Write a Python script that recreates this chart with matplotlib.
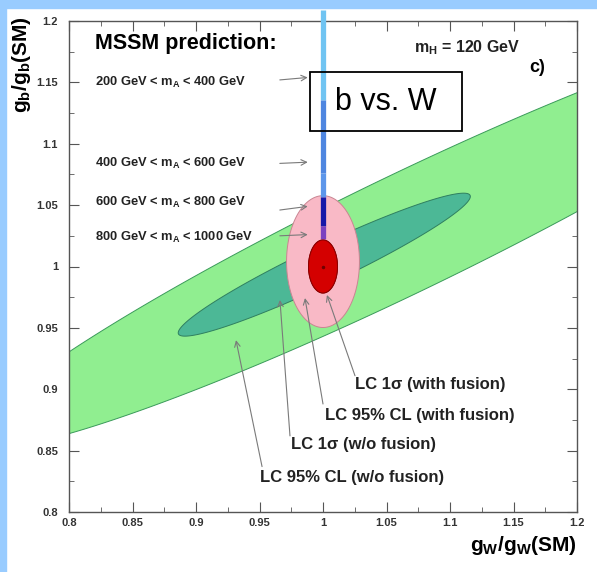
import numpy as np
import matplotlib
matplotlib.use("Agg")
import matplotlib.pyplot as plt
from matplotlib.patches import Polygon, Rectangle

plt.rcParams['font.family'] = ['Liberation Sans', 'DejaVu Sans']
plt.rcParams['mathtext.fontset'] = 'custom'
plt.rcParams['mathtext.rm'] = 'Liberation Sans'
plt.rcParams['mathtext.bf'] = 'Liberation Sans:bold'
plt.rcParams['mathtext.it'] = 'Liberation Sans:italic'

# 等高线（LC 精度区域）：中心、x 半宽、倾斜、y 半高
contour_labels = ['LC 95% CL (w/o fusion)', 'LC 1σ (w/o fusion)',
                  'LC 95% CL (with fusion)', 'LC 1σ (with fusion)']
contour_cx = [1.063, 1.001, 1.000, 1.000]
contour_cy = [1.026, 1.0015, 1.004, 1.000]
contour_halfx = [0.338, 0.115, 0.0287, 0.0114]
contour_slope = [0.49, 0.483, 0.0, 0.0]
contour_halfy = [0.053, 0.0175, 0.0537, 0.0216]
contour_fill = ['#90ee90', '#4cb896', '#f9b9c6', '#d40000']
contour_edge = ['#3a9a5a', '#2f7f60', '#c98592', '#8a0000']

# MSSM 预测线（x = 1）
mssm_x = 1.0
mssm_edges = [1.209, 1.136, 1.076, 1.057, 1.033, 1.022]
mssm_colors = ['#70c4f2', '#4f86e0', '#5d96ea', '#1717a8', '#7b40c0']
mass_labels = ['200 GeV < m$_\\mathbf{A}$ < 400 GeV', '400 GeV < m$_\\mathbf{A}$ < 600 GeV',
               '600 GeV < m$_\\mathbf{A}$ < 800 GeV', '800 GeV < m$_\\mathbf{A}$ < 1000 GeV']
mass_text_y = [1.150, 1.0843, 1.0525, 1.024]
mass_arrow_y = [1.152, 1.084, 1.046, 1.025]
mass_arrow_tip_y = [1.154, 1.085, 1.049, 1.026]

ticks = [0.8, 0.85, 0.9, 0.95, 1.0, 1.05, 1.1, 1.15, 1.2]
tick_labels = ['0.8', '0.85', '0.9', '0.95', '1', '1.05', '1.1', '1.15', '1.2']

fig = plt.figure(figsize=(5.97, 5.72), dpi=100)
fig.patches.append(Rectangle((0, 1 - 8 / 572), 1, 8 / 572, transform=fig.transFigure,
                             color='#99ccff', zorder=-10))
fig.patches.append(Rectangle((0, 0), 6 / 597, 1, transform=fig.transFigure,
                             color='#99ccff', zorder=-10))
ax = fig.add_axes([69 / 597, 1 - 512 / 572, 508 / 597, 491 / 572])

t = np.linspace(0, 2 * np.pi, 400)
for i in range(len(contour_labels)):
    xs = contour_cx[i] + contour_halfx[i] * np.cos(t)
    ys = contour_cy[i] + contour_slope[i] * contour_halfx[i] * np.cos(t) + contour_halfy[i] * np.sin(t)
    ax.add_patch(Polygon(np.column_stack([xs, ys]), closed=True, facecolor=contour_fill[i],
                         edgecolor=contour_edge[i], lw=0.7, zorder=2 + i))

# 预测线各段
for i in range(len(mssm_colors)):
    ax.plot([mssm_x, mssm_x], [mssm_edges[i], mssm_edges[i + 1]], color=mssm_colors[i],
            lw=3.8, solid_capstyle='butt', zorder=5, clip_on=False)

# 红色椭圆画在线上面
xs = contour_cx[3] + contour_halfx[3] * np.cos(t)
ys = contour_cy[3] + contour_halfy[3] * np.sin(t)
ax.add_patch(Polygon(np.column_stack([xs, ys]), closed=True, facecolor=contour_fill[3],
                     edgecolor=contour_edge[3], lw=0.7, zorder=6))
ax.plot([contour_cx[3]], [contour_cy[3]], marker='o', ms=1.5, color='#700000', zorder=7)

arrow_kw = dict(arrowstyle='->', color='#7a7a7a', lw=0.8, shrinkA=0, shrinkB=0)

ax.text(0.8205, 1.1813, 'MSSM prediction:', fontsize=15.5, fontweight='bold', va='center')
for lab, ty, ay, tipy in zip(mass_labels, mass_text_y, mass_arrow_y, mass_arrow_tip_y):
    ax.text(0.8205, ty, lab, fontsize=9.3, fontweight='bold', va='center', color='#222222')
    ax.annotate('', xy=(0.988, tipy), xytext=(0.966, ay), arrowprops=arrow_kw, zorder=8)

ax.text(1.1134, 1.178, 'm$_\\mathbf{H}$ = 120 GeV', fontsize=11.5, fontweight='bold',
        ha='center', va='center', color='#222222')
ax.text(1.1685, 1.1625, 'c)', fontsize=13, fontweight='bold', ha='center', va='center')

ax.add_patch(Rectangle((0.9898, 1.1104), 0.1196, 0.0481, fill=False, edgecolor='black',
                       lw=1.3, zorder=9))
ax.text(1.0496, 1.1344, 'b vs. W', fontsize=22, ha='center', va='center', zorder=9)

# 标注
lc_text_xy = [(0.9504, 0.8285), (0.9748, 0.8546), (1.0016, 0.879), (1.0252, 0.9035)]
lc_tail = [(0.952, 0.837), (0.974, 0.862), (1.0, 0.888), (1.0252, 0.911)]
lc_head = [(0.9315, 0.940), (0.9661, 0.9727), (0.9858, 0.9743), (1.0031, 0.9768)]
for lab, (tx, ty), tail, head in zip(contour_labels, lc_text_xy, lc_tail, lc_head):
    ax.text(tx, ty, lab, fontsize=12, fontweight='bold', va='center', color='#222222')
    ax.annotate('', xy=head, xytext=tail, arrowprops=arrow_kw, zorder=8)

ax.set_xlim(0.8, 1.2)
ax.set_ylim(0.8, 1.2)
ax.set_xticks(ticks)
ax.set_xticklabels(tick_labels)
ax.set_yticks(ticks)
ax.set_yticklabels(tick_labels)
ax.set_xticks(np.arange(0.825, 1.2, 0.05), minor=True)
ax.set_yticks(np.arange(0.825, 1.2, 0.05), minor=True)
ax.tick_params(which='both', direction='in', top=True, right=True, colors='#555555',
               labelcolor='#333333', labelsize=8)
ax.tick_params(which='major', length=7)
ax.tick_params(which='minor', length=3.5)
ax.tick_params(axis='y', pad=8)
ax.tick_params(axis='x', pad=4)
for lab in ax.get_xticklabels() + ax.get_yticklabels():
    lab.set_fontweight('bold')
for sp in ax.spines.values():
    sp.set_color('#555555')
    sp.set_linewidth(1.0)

ax.set_xlabel(r'$\mathbf{g_W/g_W(SM)}$', fontsize=15, loc='right')
ax.xaxis.set_label_coords(1.0, -0.045)
ax.set_ylabel(r'$\mathbf{g_b/g_b(SM)}$', fontsize=15, loc='top')
ax.yaxis.set_label_coords(-0.071, 1.01)

fig.savefig('out.png', dpi=100)
